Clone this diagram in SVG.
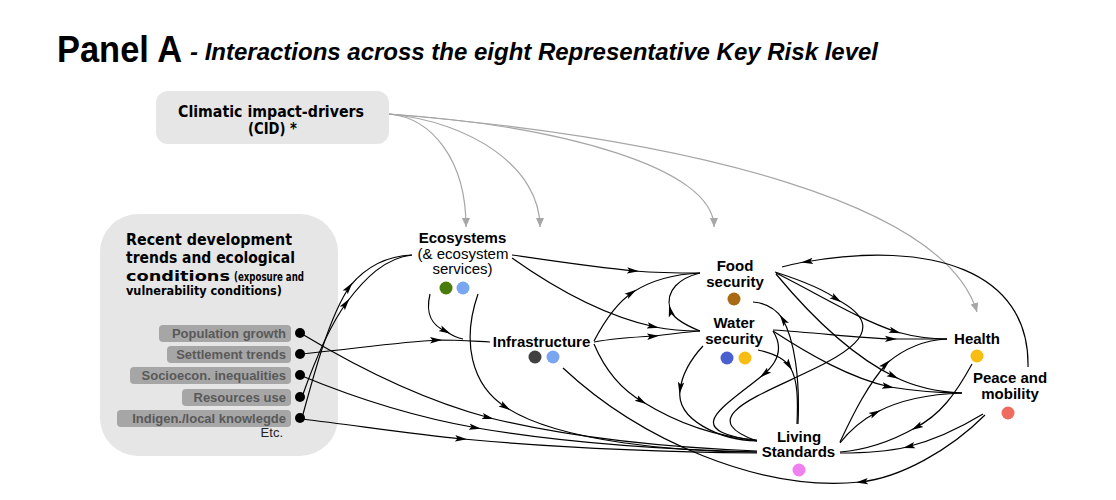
<svg xmlns="http://www.w3.org/2000/svg" width="1116" height="500" viewBox="0 0 1116 500">
<style>
.c{fill:none;stroke:#000;stroke-width:1.2;marker-mid:url(#ah)}
.g{fill:none;stroke:#a6a6a6;stroke-width:1.2;marker-end:url(#gh)}
.n{font-family:'Liberation Sans',Arial,sans-serif;font-weight:bold;font-size:15px;text-anchor:middle;fill:#000}
.r{font-family:'Liberation Sans',Arial,sans-serif;font-size:15px;text-anchor:middle;fill:#000}
.d{font-family:'DejaVu Sans',Verdana,sans-serif;font-weight:bold;fill:#000}
.tag{fill:#a6a6a6}
.tt{font-family:'Liberation Sans',Arial,sans-serif;font-weight:bold;font-size:13px;fill:#595959;text-anchor:end}
.dot{fill:#000}
</style>
<defs>
<marker id="ah" markerUnits="userSpaceOnUse" markerWidth="12" markerHeight="10" viewBox="0 0 12 10" refX="8" refY="5" orient="auto">
<path d="M0,1.8 L12,5 L0,8.2 L2.5,5 z" fill="#000"/>
</marker>
<marker id="gh" markerUnits="userSpaceOnUse" markerWidth="9" markerHeight="9" viewBox="0 0 9 9" refX="9" refY="4.5" orient="auto">
<path d="M0,0.5 L9,4.5 L0,8.5 z" fill="#a6a6a6"/>
</marker>
</defs>
<rect width="1116" height="500" fill="#fff"/>

<g id="title">
<text x="57" y="62" font-family="'Liberation Sans',Arial,sans-serif" font-weight="bold" font-size="36" textLength="125" lengthAdjust="spacingAndGlyphs">Panel A</text>
<text x="190" y="60" font-family="'Liberation Sans',Arial,sans-serif" font-weight="bold" font-style="italic" font-size="23" textLength="688" lengthAdjust="spacingAndGlyphs">- Interactions across the eight Representative Key Risk level</text>
</g>

<g id="cid">
<rect x="156" y="91" width="233" height="53" rx="12" fill="#e6e6e6"/>
<text class="d" x="178" y="117" font-size="15" textLength="186" lengthAdjust="spacingAndGlyphs">Climatic impact-drivers</text>
<text class="d" x="248" y="134" font-size="15" textLength="49" lengthAdjust="spacingAndGlyphs">(CID) *</text>
</g>

<g id="drivers-box">
<rect x="100" y="214" width="238" height="242" rx="38" fill="#e6e6e6"/>
<text class="d" x="126" y="245" font-size="15" textLength="166" lengthAdjust="spacingAndGlyphs">Recent development</text>
<text class="d" x="126" y="263" font-size="15" textLength="169" lengthAdjust="spacingAndGlyphs">trends and ecological</text>
<text class="d" x="126" y="281" font-size="14.5" textLength="104" lengthAdjust="spacingAndGlyphs">conditions</text>
<text class="d" x="234" y="281" font-size="11.5" textLength="70" lengthAdjust="spacingAndGlyphs">(exposure and</text>
<text class="d" x="126" y="295" font-size="11.5" textLength="156" lengthAdjust="spacingAndGlyphs">vulnerability conditions)</text>
<text x="283" y="437" font-family="'Liberation Sans',Arial,sans-serif" font-size="13" text-anchor="end" fill="#222">Etc.</text>
</g>

<g id="population-growth">
<rect class="tag" x="159" y="325" width="132" height="17" rx="4"/>
<text class="tt" x="286" y="338">Population growth</text>
<circle class="dot" cx="300" cy="333" r="5"/>
</g>
<g id="settlement-trends">
<rect class="tag" x="167" y="346" width="124" height="17" rx="4"/>
<text class="tt" x="286" y="359">Settlement trends</text>
<circle class="dot" cx="300" cy="354" r="5"/>
</g>
<g id="socioecon-inequalities">
<rect class="tag" x="130" y="367" width="161" height="17" rx="4"/>
<text class="tt" x="286" y="380">Socioecon. inequalities</text>
<circle class="dot" cx="300" cy="375" r="5"/>
</g>
<g id="resources-use">
<rect class="tag" x="182" y="389" width="109" height="17" rx="4"/>
<text class="tt" x="286" y="402">Resources use</text>
<circle class="dot" cx="300" cy="397" r="5"/>
</g>
<g id="indigenous-knowledge">
<rect class="tag" x="117" y="410" width="174" height="17" rx="4"/>
<text class="tt" x="286" y="423">Indigen./local knowlegde</text>
<circle class="dot" cx="300" cy="418" r="5"/>
</g>

<g id="connectors">
<path class="g" d="M389,114 C432,118 466,160 466,227"/>
<path class="g" d="M389,114 C472,122 540,168 540,227"/>
<path class="g" d="M389,114 C562,126 714,168 714,227"/>
<path class="g" d="M389,114 C700,140 945,205 977,312"/>

<path class="c" d="M512,255 C560,262 600,268 635,271 C660,273 680,273 700,273"/>
<path class="c" d="M512,258 C550,285 600,315 655,327 C670,330 685,331 700,331"/>
<path class="c" d="M430,294 C425,315 432,326 447,332 C453,336 458,338 463,339"/>
<path class="c" d="M478,294 C462,340 470,385 507,408 C560,442 680,452 757,452"/>
<path class="c" d="M302,397 C315,360 330,325 347,302 C365,278 385,258 412,255"/>
<path class="c" d="M302,418 C315,370 330,315 350,286 C365,268 385,256 412,255"/>
<path class="c" d="M302,354 C360,348 400,342 438,340 C455,340 470,341 490,342"/>
<path class="c" d="M302,334 C370,375 430,402 490,418 C580,440 680,448 757,451"/>
<path class="c" d="M302,376 C360,400 420,418 477,428 C570,444 680,450 757,452"/>
<path class="c" d="M302,419 C360,426 410,434 463,439 C560,448 680,452 757,453"/>
<path class="c" d="M594,341 C605,320 618,302 633,292 C652,280 675,274 700,273"/>
<path class="c" d="M594,342 C615,338 635,337 655,336 C670,334 685,332 700,331"/>
<path class="c" d="M594,344 C605,370 622,390 643,402 C680,425 720,437 757,440"/>
<path class="c" d="M700,331 C685,325 672,318 670,309 C665,290 680,278 700,273"/>
<path class="c" d="M703,346 C690,360 682,375 680,390 C676,420 720,440 757,441"/>
<path class="c" d="M775,272 C800,280 825,290 838,300 C950,360 640,400 757,441"/>
<path class="c" d="M773,331 C785,350 775,365 763,375 C720,410 680,430 757,441"/>
<path class="c" d="M776,273 C820,295 860,320 897,332 C915,337 930,339 947,339"/>
<path class="c" d="M776,274 C810,315 850,355 895,377 C915,387 940,392 962,393"/>
<path class="c" d="M773,330 C820,333 860,338 893,339 C915,339 930,339 947,339"/>
<path class="c" d="M773,331 C810,355 850,378 890,387 C915,391 940,393 962,393"/>
<path class="c" d="M840,442 C855,410 868,385 887,363 C905,348 925,340 947,339"/>
<path class="c" d="M840,443 C850,430 862,420 877,412 C900,400 930,394 962,393"/>
<path class="c" d="M972,364 C955,395 940,415 915,428 C890,442 865,450 840,452"/>
<path class="c" d="M983,414 C960,428 935,440 907,447 C885,452 860,453 840,453"/>
<path class="c" d="M985,415 C950,450 900,478 860,482 C760,492 640,440 563,368"/>
<path class="c" d="M1028,367 C1030,270 930,240 805,262 C797,263 790,265 782,267"/>
<path class="c" d="M798,424 C800,380 795,340 782,318 C775,308 765,303 753,302"/>
<path class="c" d="M758,350 C772,353 784,358 790,367 C798,380 798,400 797,424"/>
</g>

<g id="ecosystems">
<text class="n" x="462.5" y="243">Ecosystems</text>
<text class="r" x="463" y="258.5">(&amp; ecosystem</text>
<text class="r" x="462.5" y="274">services)</text>
<circle cx="446" cy="288" r="6.5" fill="#4a7c0b"/>
<circle cx="463" cy="288" r="6.5" fill="#7aa6f0"/>
</g>
<g id="infrastructure">
<text class="n" x="541.5" y="347">Infrastructure</text>
<circle cx="535" cy="357" r="6.5" fill="#404040"/>
<circle cx="553" cy="357" r="6.5" fill="#7aa6f0"/>
</g>
<g id="food-security">
<text class="n" x="735" y="271">Food</text>
<text class="n" x="735" y="287">security</text>
<circle cx="734" cy="299" r="6.5" fill="#a86b14"/>
</g>
<g id="water-security">
<text class="n" x="734" y="328">Water</text>
<text class="n" x="734" y="344">security</text>
<circle cx="727" cy="358" r="6.5" fill="#4a5fd0"/>
<circle cx="745" cy="358" r="6.5" fill="#f7bd12"/>
</g>
<g id="health">
<text class="n" x="977" y="344">Health</text>
<circle cx="977" cy="356" r="6.5" fill="#f7bd12"/>
</g>
<g id="peace-mobility">
<text class="n" x="1010" y="383">Peace and</text>
<text class="n" x="1010" y="399">mobility</text>
<circle cx="1008" cy="413" r="6.5" fill="#f06a5f"/>
</g>
<g id="living-standards">
<text class="n" x="799" y="442">Living</text>
<text class="n" x="798.5" y="457">Standards</text>
<circle cx="799" cy="470" r="6.5" fill="#f07ff0"/>
</g>
</svg>
